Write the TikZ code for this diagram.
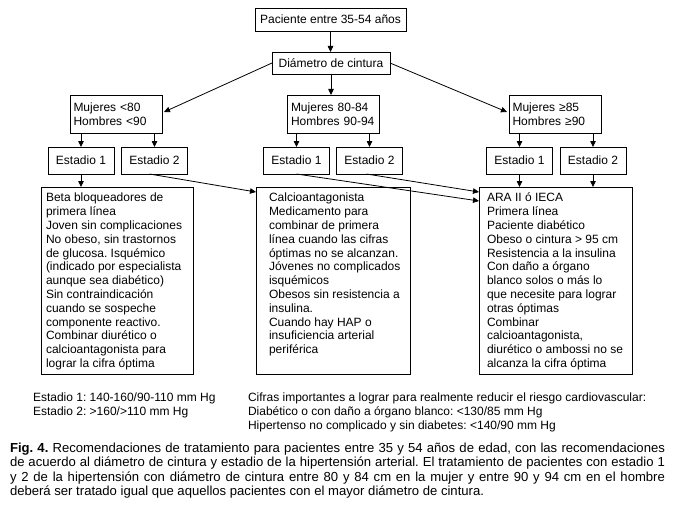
\documentclass[tikz,border=0pt]{standalone}
\usepackage{fontspec}
\setmainfont{Liberation Sans}
\usetikzlibrary{arrows.meta}
\frenchspacing
\begin{document}
\begin{tikzpicture}[x=1pt,y=-1pt,
  every node/.style={inner sep=0pt, outer sep=0pt},
  box/.style={draw, line width=0.8pt, font=\fontsize{12}{14}\selectfont\frenchspacing},
  mbox/.style={box, align=left, text width=85pt, inner xsep=3.5pt, minimum height=38pt},
  sbox/.style={box, minimum width=66pt, minimum height=27pt},
  tbox/.style={draw, line width=0.8pt, minimum width=153pt, minimum height=187pt},
  arr/.style={line width=0.8pt, -{Triangle[length=6pt,width=5.5pt]}},
  txt/.style={align=left, font=\fontsize{12}{13.8}\selectfont\frenchspacing, anchor=north west},
  ntxt/.style={align=left, font=\fontsize{12}{14}\selectfont\frenchspacing, anchor=north west}
]
\fill[white] (0,0) rectangle (678,519);
\useasboundingbox (0,0) rectangle (678,519);

% top level
\node[box, minimum width=151pt, minimum height=23pt] (top) at (330.5,19.5) {Paciente entre 35-54 años};
\node[box, minimum width=118pt, minimum height=22pt] (diam) at (331,63) {Diámetro de cintura};

% waist groups
\node[mbox] (m1) at (116,114) {Mujeres <80\\Hombres <90};
\node[mbox] (m2) at (333.5,114) {Mujeres 80-84\\Hombres 90-94};
\node[mbox] (m3) at (555,114) {Mujeres ≥85\\Hombres ≥90};

% stages
\node[sbox] (e11) at (81,160.5) {Estadio 1};
\node[sbox] (e12) at (154.5,160.5) {Estadio 2};
\node[sbox] (e21) at (296.5,160.5) {Estadio 1};
\node[sbox] (e22) at (369.5,160.5) {Estadio 2};
\node[sbox] (e31) at (519.5,160.5) {Estadio 1};
\node[sbox] (e32) at (593,160.5) {Estadio 2};

% treatment boxes
\node[tbox, minimum width=152pt] (t1) at (117,280.5) {};
\node[tbox, minimum width=154pt] (t2) at (333,280.5) {};
\node[tbox, minimum width=153pt] (t3) at (555.5,280.5) {};

\node[txt] (t1txt) at ([xshift=5pt,yshift=-5.3pt]t1.north west) {\strut Beta bloqueadores de\\primera línea\\Joven sin complicaciones\\No obeso, sin trastornos\\de glucosa. Isquémico\\(indicado por especialista\\aunque sea diabético)\\Sin contraindicación\\cuando se sospeche\\componente reactivo.\\Combinar diurético o\\calcioantagonista para\\lograr la cifra óptima};
\node[txt] (t2txt) at ([xshift=13pt,yshift=-5.3pt]t2.north west) {\strut Calcioantagonista\\Medicamento para\\combinar de primera\\línea cuando las cifras\\óptimas no se alcanzan.\\Jóvenes no complicados\\isquémicos\\Obesos sin resistencia a\\insulina.\\Cuando hay HAP o\\insuficiencia arterial\\periférica};
\node[txt] (t3txt) at ([xshift=8pt,yshift=-5.3pt]t3.north west) {\strut ARA II ó IECA\\Primera línea\\Paciente diabético\\Obeso o cintura > 95 cm\\Resistencia a la insulina\\Con daño a órgano\\blanco solos o más lo\\que necesite para lograr\\otras óptimas\\Combinar\\calcioantagonista,\\diurético o ambossi no se\\alcanza la cifra óptima};

% connectors
\draw[arr] (top.south) -- (top.south |- diam.north);
\draw[arr] (diam.west) -- ([shift={(2pt,2pt)}]m1.east);
\draw[arr] (diam.south) -- (diam.south |- m2.north);
\draw[arr] (diam.east) -- ([shift={(-2pt,2pt)}]m3.west);

\draw[arr] (m1.south -| e11.north) -- (e11.north);
\draw[arr] (m1.south -| e12.north) -- (e12.north);
\draw[arr] (m2.south -| e21.north) -- (e21.north);
\draw[arr] (m2.south -| e22.north) -- (e22.north);
\draw[arr] (m3.south -| e31.north) -- (e31.north);
\draw[arr] (m3.south -| e32.north) -- (e32.north);

\draw[arr] (e11.south) -- (e11.south |- t1.north);
\draw[arr] ([xshift=-5pt]e12.south) -- ([yshift=-5pt]t2.north west);
\draw[arr] (e21.south) -- ([yshift=-14pt]t3.north west);
\draw[arr] ([xshift=-3pt]e22.south) -- ([yshift=-5pt]t3.north west);
\draw[arr] (e31.south) -- (e31.south |- t3.north);
\draw[arr] (e32.south) -- (e32.south |- t3.north);

% legends
\node[ntxt] (leg1) at (33,391.2) {\strut Estadio 1: 140-160/90-110 mm Hg\\Estadio 2: >160/>110 mm Hg};
\node[ntxt] (leg2) at (248,391.2) {\strut Cifras importantes a lograr para realmente reducir el riesgo cardiovascular:\\Diabético o con daño a órgano blanco: <130/85 mm Hg\\Hipertenso no complicado y sin diabetes: <140/90 mm Hg};

% caption
\node[align=left, anchor=north west, font=\fontsize{13.1}{14.5}\selectfont\frenchspacing] (cap) at (10,441.85) {%
\strut\makebox[655pt][s]{\textbf{Fig. 4.} Recomendaciones de tratamiento para pacientes entre 35 y 54 años de edad, con las recomendaciones}\\
\makebox[655pt][s]{de acuerdo al diámetro de cintura y estadio de la hipertensión arterial. El tratamiento de pacientes con estadio 1}\\
\makebox[655pt][s]{y 2 de la hipertensión con diámetro de cintura entre 80 y 84 cm en la mujer y entre 90 y 94 cm en el hombre}\\
deberá ser tratado igual que aquellos pacientes con el mayor diámetro de cintura.};
\end{tikzpicture}
\end{document}
